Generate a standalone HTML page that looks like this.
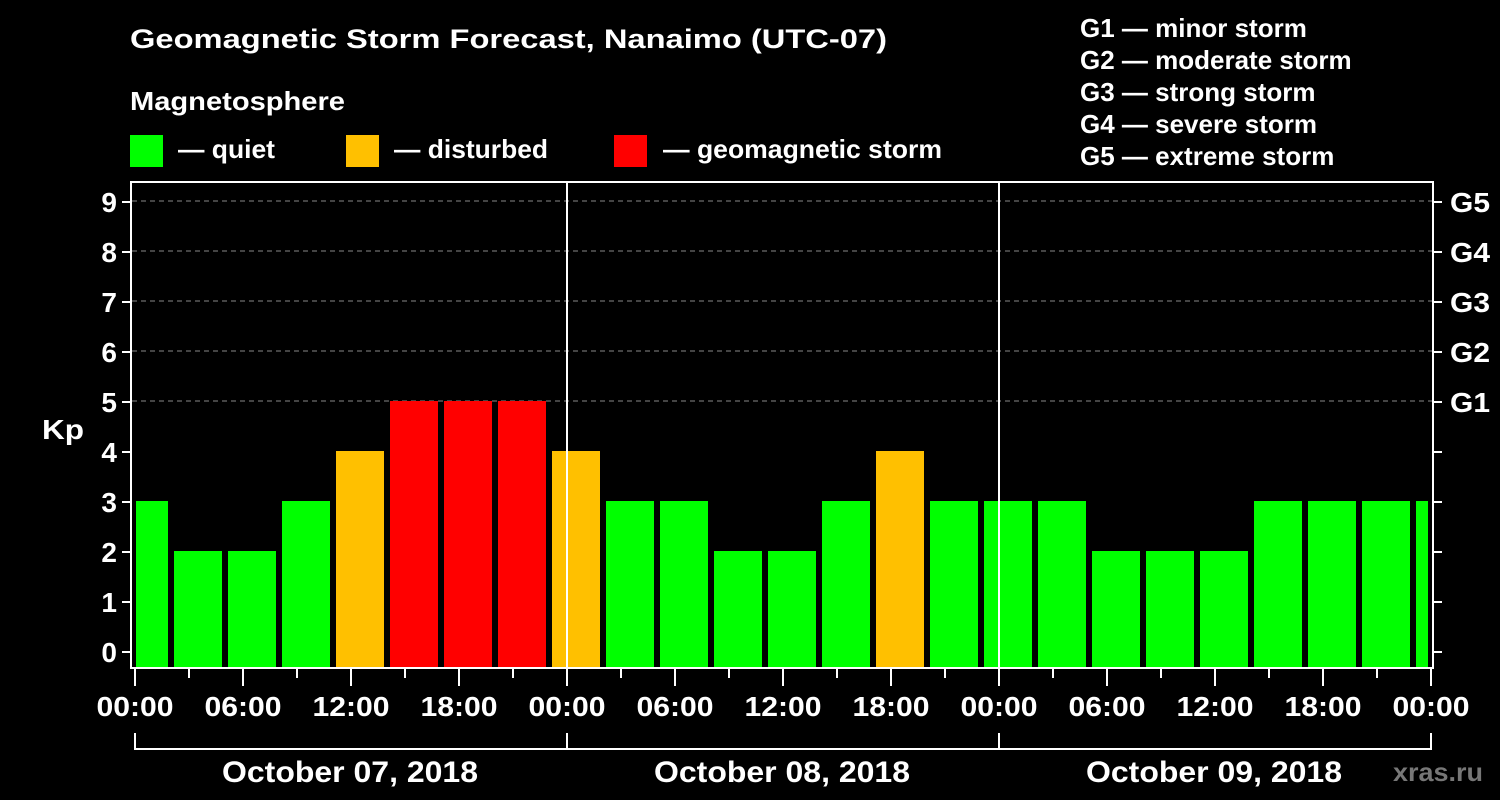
<!DOCTYPE html>
<html><head><meta charset="utf-8"><style>
html,body{margin:0;padding:0;background:#000;}
svg{display:block;}
text{font-family:"Liberation Sans",Arial,sans-serif;font-weight:bold;fill:#fff;}
</style></head><body>
<svg width="1500" height="800" viewBox="0 0 1500 800" xmlns="http://www.w3.org/2000/svg">
<rect width="1500" height="800" fill="#000"/>
<text x="130" y="48" font-size="27" textLength="757" lengthAdjust="spacingAndGlyphs">Geomagnetic Storm Forecast, Nanaimo (UTC-07)</text>
<text x="130" y="110" font-size="26" textLength="215" lengthAdjust="spacingAndGlyphs">Magnetosphere</text>
<rect x="130" y="135" width="33" height="32" fill="#00ff00"/>
<text x="178" y="158" font-size="26" textLength="97" lengthAdjust="spacingAndGlyphs">— quiet</text>
<rect x="346" y="135" width="33" height="32" fill="#ffc000"/>
<text x="394" y="158" font-size="26" textLength="154" lengthAdjust="spacingAndGlyphs">— disturbed</text>
<rect x="614" y="135" width="33" height="32" fill="#ff0000"/>
<text x="663" y="158" font-size="26" textLength="279" lengthAdjust="spacingAndGlyphs">— geomagnetic storm</text>
<g font-size="26">
<text x="1080" y="37">G1 — minor storm</text>
<text x="1080" y="69">G2 — moderate storm</text>
<text x="1080" y="101">G3 — strong storm</text>
<text x="1080" y="133">G4 — severe storm</text>
<text x="1080" y="165">G5 — extreme storm</text>
</g>
<g stroke="#888" stroke-width="1" stroke-dasharray="5,4">
<line x1="132" y1="201" x2="1432" y2="201"/>
<line x1="132" y1="251" x2="1432" y2="251"/>
<line x1="132" y1="301" x2="1432" y2="301"/>
<line x1="132" y1="351" x2="1432" y2="351"/>
<line x1="132" y1="401" x2="1432" y2="401"/>
</g>
<g>
<rect x="136" y="501" width="32" height="166" fill="#00ff00"/>
<rect x="174" y="551" width="48" height="116" fill="#00ff00"/>
<rect x="228" y="551" width="48" height="116" fill="#00ff00"/>
<rect x="282" y="501" width="48" height="166" fill="#00ff00"/>
<rect x="336" y="451" width="48" height="216" fill="#ffc000"/>
<rect x="390" y="401" width="48" height="266" fill="#ff0000"/>
<rect x="444" y="401" width="48" height="266" fill="#ff0000"/>
<rect x="498" y="401" width="48" height="266" fill="#ff0000"/>
<rect x="552" y="451" width="48" height="216" fill="#ffc000"/>
<rect x="606" y="501" width="48" height="166" fill="#00ff00"/>
<rect x="660" y="501" width="48" height="166" fill="#00ff00"/>
<rect x="714" y="551" width="48" height="116" fill="#00ff00"/>
<rect x="768" y="551" width="48" height="116" fill="#00ff00"/>
<rect x="822" y="501" width="48" height="166" fill="#00ff00"/>
<rect x="876" y="451" width="48" height="216" fill="#ffc000"/>
<rect x="930" y="501" width="48" height="166" fill="#00ff00"/>
<rect x="984" y="501" width="48" height="166" fill="#00ff00"/>
<rect x="1038" y="501" width="48" height="166" fill="#00ff00"/>
<rect x="1092" y="551" width="48" height="116" fill="#00ff00"/>
<rect x="1146" y="551" width="48" height="116" fill="#00ff00"/>
<rect x="1200" y="551" width="48" height="116" fill="#00ff00"/>
<rect x="1254" y="501" width="48" height="166" fill="#00ff00"/>
<rect x="1308" y="501" width="48" height="166" fill="#00ff00"/>
<rect x="1362" y="501" width="48" height="166" fill="#00ff00"/>
<rect x="1416" y="501" width="12" height="166" fill="#00ff00"/>
</g>
<line x1="567" y1="182" x2="567" y2="668" stroke="#fff" stroke-width="2"/>
<line x1="999" y1="182" x2="999" y2="668" stroke="#fff" stroke-width="2"/>
<rect x="131" y="182" width="1302" height="486" fill="none" stroke="#fff" stroke-width="2"/>
<g stroke="#fff" stroke-width="2">
<line x1="122" y1="652" x2="131" y2="652"/><line x1="122" y1="602" x2="131" y2="602"/>
<line x1="122" y1="552" x2="131" y2="552"/><line x1="122" y1="502" x2="131" y2="502"/>
<line x1="122" y1="452" x2="131" y2="452"/><line x1="122" y1="402" x2="131" y2="402"/>
<line x1="122" y1="352" x2="131" y2="352"/><line x1="122" y1="302" x2="131" y2="302"/>
<line x1="122" y1="252" x2="131" y2="252"/><line x1="122" y1="202" x2="131" y2="202"/>
<line x1="1433" y1="652" x2="1442" y2="652"/><line x1="1433" y1="602" x2="1442" y2="602"/>
<line x1="1433" y1="552" x2="1442" y2="552"/><line x1="1433" y1="502" x2="1442" y2="502"/>
<line x1="1433" y1="452" x2="1442" y2="452"/><line x1="1433" y1="402" x2="1442" y2="402"/>
<line x1="1433" y1="352" x2="1442" y2="352"/><line x1="1433" y1="302" x2="1442" y2="302"/>
<line x1="1433" y1="252" x2="1442" y2="252"/><line x1="1433" y1="202" x2="1442" y2="202"/>
</g>
<g font-size="28" text-anchor="end">
<text x="117" y="662">0</text><text x="117" y="612">1</text><text x="117" y="562">2</text>
<text x="117" y="512">3</text><text x="117" y="462">4</text><text x="117" y="412">5</text>
<text x="117" y="362">6</text><text x="117" y="312">7</text><text x="117" y="262">8</text>
<text x="117" y="212">9</text>
</g>
<text x="42" y="439" font-size="28" textLength="42" lengthAdjust="spacingAndGlyphs">Kp</text>
<g font-size="28">
<text x="1450" y="412" textLength="40" lengthAdjust="spacingAndGlyphs">G1</text>
<text x="1450" y="362" textLength="40" lengthAdjust="spacingAndGlyphs">G2</text>
<text x="1450" y="312" textLength="40" lengthAdjust="spacingAndGlyphs">G3</text>
<text x="1450" y="262" textLength="40" lengthAdjust="spacingAndGlyphs">G4</text>
<text x="1450" y="212" textLength="40" lengthAdjust="spacingAndGlyphs">G5</text>
</g>
<g stroke="#fff" stroke-width="2">
<line x1="135" y1="668" x2="135" y2="686"/><line x1="189" y1="668" x2="189" y2="678"/>
<line x1="243" y1="668" x2="243" y2="686"/><line x1="297" y1="668" x2="297" y2="678"/>
<line x1="351" y1="668" x2="351" y2="686"/><line x1="405" y1="668" x2="405" y2="678"/>
<line x1="459" y1="668" x2="459" y2="686"/><line x1="513" y1="668" x2="513" y2="678"/>
<line x1="567" y1="668" x2="567" y2="686"/><line x1="621" y1="668" x2="621" y2="678"/>
<line x1="675" y1="668" x2="675" y2="686"/><line x1="729" y1="668" x2="729" y2="678"/>
<line x1="783" y1="668" x2="783" y2="686"/><line x1="837" y1="668" x2="837" y2="678"/>
<line x1="891" y1="668" x2="891" y2="686"/><line x1="945" y1="668" x2="945" y2="678"/>
<line x1="999" y1="668" x2="999" y2="686"/><line x1="1053" y1="668" x2="1053" y2="678"/>
<line x1="1107" y1="668" x2="1107" y2="686"/><line x1="1161" y1="668" x2="1161" y2="678"/>
<line x1="1215" y1="668" x2="1215" y2="686"/><line x1="1269" y1="668" x2="1269" y2="678"/>
<line x1="1323" y1="668" x2="1323" y2="686"/><line x1="1377" y1="668" x2="1377" y2="678"/>
<line x1="1431" y1="668" x2="1431" y2="686"/>
</g>
<g font-size="28" text-anchor="middle">
<text x="135" y="716" textLength="77" lengthAdjust="spacingAndGlyphs">00:00</text><text x="243" y="716" textLength="77" lengthAdjust="spacingAndGlyphs">06:00</text><text x="351" y="716" textLength="77" lengthAdjust="spacingAndGlyphs">12:00</text>
<text x="459" y="716" textLength="77" lengthAdjust="spacingAndGlyphs">18:00</text><text x="567" y="716" textLength="77" lengthAdjust="spacingAndGlyphs">00:00</text><text x="675" y="716" textLength="77" lengthAdjust="spacingAndGlyphs">06:00</text>
<text x="783" y="716" textLength="77" lengthAdjust="spacingAndGlyphs">12:00</text><text x="891" y="716" textLength="77" lengthAdjust="spacingAndGlyphs">18:00</text><text x="999" y="716" textLength="77" lengthAdjust="spacingAndGlyphs">00:00</text>
<text x="1107" y="716" textLength="77" lengthAdjust="spacingAndGlyphs">06:00</text><text x="1215" y="716" textLength="77" lengthAdjust="spacingAndGlyphs">12:00</text><text x="1323" y="716" textLength="77" lengthAdjust="spacingAndGlyphs">18:00</text>
<text x="1431" y="716" textLength="77" lengthAdjust="spacingAndGlyphs">00:00</text>
</g>
<g stroke="#fff" stroke-width="2" fill="none">
<polyline points="135,733 135,749 1431,749 1431,733"/>
<line x1="567" y1="733" x2="567" y2="749"/>
<line x1="999" y1="733" x2="999" y2="749"/>
</g>
<g font-size="30" text-anchor="middle">
<text x="350" y="782" textLength="256" lengthAdjust="spacingAndGlyphs">October 07, 2018</text>
<text x="782" y="782" textLength="256" lengthAdjust="spacingAndGlyphs">October 08, 2018</text>
<text x="1214" y="782" textLength="256" lengthAdjust="spacingAndGlyphs">October 09, 2018</text>
</g>
<text x="1393" y="781" font-size="26" textLength="90" lengthAdjust="spacingAndGlyphs" style="fill:#777">xras.ru</text>
</svg>
</body></html>
